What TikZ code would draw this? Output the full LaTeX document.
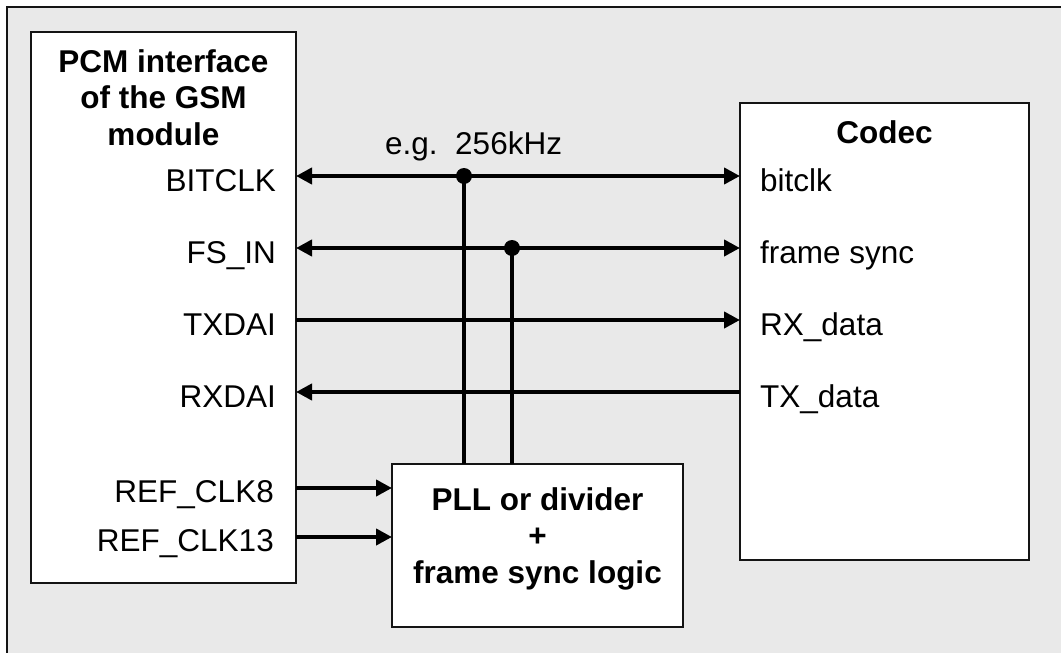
\documentclass[tikz,border=0pt]{standalone}
\usepackage{fontspec}
\setmainfont{Liberation Sans}
\usetikzlibrary{arrows.meta}
\definecolor{bggray}{RGB}{233,233,233}
\definecolor{framecol}{RGB}{20,20,20}
\begin{document}
\begin{tikzpicture}[x=1pt,y=-1pt,
  box/.style={draw=framecol,line width=2pt,fill=white,inner sep=0pt,outer sep=0pt},
  lbl/.style={inner sep=0pt,font=\fontsize{31.5}{36.5}\selectfont},
  title/.style={inner sep=0pt,align=center,font=\fontsize{31.5}{36.5}\selectfont\bfseries},
  sig/.style={line width=4pt,{Triangle[length=16pt,width=16pt]}-{Triangle[length=16pt,width=16pt]}},
  wire/.style={line width=4pt},
  dot/.style={circle,fill=black,inner sep=0pt,minimum size=16pt}]
\useasboundingbox (0,0) rectangle (1061,653);
\clip (0,0) rectangle (1061,653);
\fill[white] (0,0) rectangle (1061,653);
\draw[line width=2pt,fill=bggray,draw=framecol] (6.5,6.5) rectangle (1080,680);

% boxes
\node[box,minimum width=265pt,minimum height=551pt] (gsm) at (163.5,307.5) {};
\node[box,minimum width=289pt,minimum height=457pt] (codec) at (884.5,331.5) {};
\node[box,minimum width=291pt,minimum height=163pt] (pll) at (537.5,545.5) {};

% titles (anchor=base is the baseline of the last line)
\node[title,anchor=base] (gsmtitle) at (163.5,145) {PCM interface\\of the GSM\\module};
\node[title,anchor=base] (codectitle) at (884.5,143) {Codec};
\node[title,anchor=base] (plltitle) at (537.5,583) {PLL or divider\\+\\frame sync logic};

% signal levels
\coordinate (y1) at (0,176);
\coordinate (y2) at (0,248);
\coordinate (y3) at (0,320);
\coordinate (y4) at (0,392);
\coordinate (y5) at (0,488);
\coordinate (y6) at (0,537);

% left labels
\node[lbl,anchor=base east] (lBITCLK) at (276,191) {BITCLK};
\node[lbl,anchor=base east] (lFSIN) at (276,263) {FS\_IN};
\node[lbl,anchor=base east] (lTXDAI) at (276,335) {TXDAI};
\node[lbl,anchor=base east] (lRXDAI) at (276,407) {RXDAI};
\node[lbl,anchor=base east] (lREF8) at (274,502) {REF\_CLK8};
\node[lbl,anchor=base east] (lREF13) at (274,551) {REF\_CLK13};

% right labels
\node[lbl,anchor=base west] (rbitclk) at (760,191) {bitclk};
\node[lbl,anchor=base west] (rfs) at (760,263) {frame sync};
\node[lbl,anchor=base west] (rrx) at (760,335) {RX\_data};
\node[lbl,anchor=base west] (rtx) at (760,407) {TX\_data};

\node[lbl,anchor=base west] (freq) at (385,154) {e.g.\ \ 256kHz};

% connectors
\draw[sig] (gsm.east |- y1) -- (codec.west |- y1);
\draw[sig] (gsm.east |- y2) -- (codec.west |- y2);
\draw[wire,-{Triangle[length=16pt,width=16pt]}] (gsm.east |- y3) -- (codec.west |- y3);
\draw[wire,{Triangle[length=16pt,width=16pt]}-] (gsm.east |- y4) -- (codec.west |- y4);
\draw[wire,-{Triangle[length=16pt,width=16pt]}] (gsm.east |- y5) -- (pll.west |- y5);
\draw[wire,-{Triangle[length=16pt,width=16pt]}] (gsm.east |- y6) -- (pll.west |- y6);

\node[dot] (d1) at (464,176) {};
\node[dot] (d2) at (512,248) {};
\draw[wire] (d1.center) -- (d1 |- pll.north);
\draw[wire] (d2.center) -- (d2 |- pll.north);
\end{tikzpicture}
\end{document}
